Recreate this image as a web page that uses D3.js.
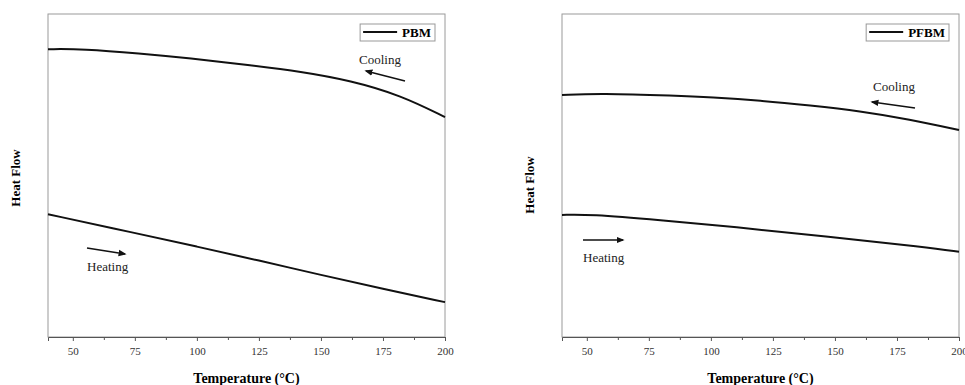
<!DOCTYPE html>
<html>
<head>
<meta charset="utf-8">
<script src="https://cdn.jsdelivr.net/npm/d3@7"></script>
<style>
  body { margin: 0; background: #fff; }
  svg { font-family: "Liberation Serif", "Times New Roman", serif; }
</style>
</head>
<body>
<svg id="chart" width="965" height="385"></svg>
<script>
// temperature (°C) and heat flow (arb. units)
const pbmCoolT = [40, 54, 77, 97, 121, 142, 162, 182, 200];
const pbmCool  = [8.91, 8.92, 8.78, 8.63, 8.42, 8.22, 7.94, 7.49, 6.81];
const pbmHeatT = [40, 75, 100, 125, 150, 175, 200];
const pbmHeat  = [3.80, 3.22, 2.80, 2.37, 1.92, 1.49, 1.08];

const pfbmCoolT = [40, 55, 86, 100, 120, 140, 160, 180, 200];
const pfbmCool  = [7.49, 7.55, 7.47, 7.42, 7.32, 7.17, 7.00, 6.74, 6.41];
const pfbmHeatT = [40, 51, 79.5, 109, 147, 187, 200];
const pfbmHeat  = [3.78, 3.80, 3.62, 3.41, 3.11, 2.78, 2.64];

const xTicks = [50, 75, 100, 125, 150, 175, 200];
const xMinor = [62.5, 87.5, 112.5, 137.5, 162.5, 187.5];

const svg = d3.select('#chart');

function zip(t, v) { return t.map((d, i) => [d, v[i]]); }

svg.append('defs').append('marker')
  .attr('id', 'arrow')
  .attr('viewBox', '0 0 10 10')
  .attr('refX', 8).attr('refY', 5)
  .attr('markerWidth', 5).attr('markerHeight', 5)
  .attr('orient', 'auto')
  .append('path').attr('d', 'M0,1 L10,5 L0,9 Z').attr('fill', '#111');

function panel(left, name, cool, heat, yLab, ann) {
  const top = 14, bottom = 337, width = 397;
  const x = d3.scaleLinear().domain([40, 200]).range([left, left + width]);
  const y = d3.scaleLinear().domain([0, 10]).range([bottom, top]);

  const g = svg.append('g');

  // frame
  g.append('rect')
    .attr('x', left).attr('y', top)
    .attr('width', width).attr('height', bottom - top)
    .attr('fill', 'none').attr('stroke', '#9a9a9a').attr('stroke-width', 1);

  // x axis, major + minor ticks
  const ax = g.append('g').attr('transform', `translate(0,${bottom})`)
    .call(d3.axisBottom(x).tickValues(xTicks).tickSize(4).tickPadding(6).tickFormat(d3.format('d')));
  ax.select('.domain').attr('stroke', '#555');
  ax.selectAll('.tick line').attr('stroke', '#555');
  ax.selectAll('text').attr('font-size', 11).attr('fill', '#333')
    .attr('font-family', '"Liberation Serif", serif');
  g.append('g').attr('transform', `translate(0,${bottom})`)
    .call(d3.axisBottom(x).tickValues(xMinor).tickSize(3).tickFormat(''))
    .call(a => a.select('.domain').remove())
    .selectAll('.tick line').attr('stroke', '#555');

  g.append('text')
    .attr('x', left + width / 2).attr('y', 383)
    .attr('text-anchor', 'middle')
    .attr('font-size', 14).attr('font-weight', 'bold')
    .text('Temperature (°C)');

  g.append('text')
    .attr('transform', `translate(${yLab[0]},${yLab[1]}) rotate(-90)`)
    .attr('text-anchor', 'middle')
    .attr('dominant-baseline', 'middle')
    .attr('font-size', 13).attr('font-weight', 'bold')
    .text('Heat Flow');

  const line = d3.line().x(d => x(d[0])).y(d => y(d[1])).curve(d3.curveBasis);
  [cool, heat].forEach(s => {
    g.append('path').datum(s)
      .attr('d', line)
      .attr('fill', 'none').attr('stroke', '#111').attr('stroke-width', 2);
  });

  // legend
  const lg = g.append('g');
  const txt = lg.append('text')
    .attr('x', left + width - 14).attr('y', 37)
    .attr('text-anchor', 'end')
    .attr('font-size', 13).attr('font-weight', 'bold')
    .text(name);
  const tw = txt.node().getComputedTextLength();
  const bx = left + width - 14 - tw - 42;
  lg.insert('rect', 'text')
    .attr('x', bx).attr('y', 24)
    .attr('width', tw + 46).attr('height', 17)
    .attr('fill', '#fff').attr('stroke', '#999');
  lg.append('line')
    .attr('x1', bx + 3).attr('x2', bx + 37)
    .attr('y1', 32).attr('y2', 32)
    .attr('stroke', '#111').attr('stroke-width', 2);

  // annotations
  ann.forEach(a => {
    g.append('text')
      .attr('x', a.tx).attr('y', a.ty)
      .attr('font-size', 13).attr('fill', '#222')
      .text(a.label);
    g.append('line')
      .attr('x1', a.a[0]).attr('y1', a.a[1])
      .attr('x2', a.a[2]).attr('y2', a.a[3])
      .attr('stroke', '#111').attr('stroke-width', 1.6)
      .attr('marker-end', 'url(#arrow)');
  });
}

panel(48, 'PBM', zip(pbmCoolT, pbmCool), zip(pbmHeatT, pbmHeat), [17, 178], [
  { label: 'Cooling', tx: 359, ty: 64, a: [405, 81, 366, 71] },
  { label: 'Heating', tx: 87, ty: 271, a: [87, 248, 125, 254] }
]);
panel(562, 'PFBM', zip(pfbmCoolT, pfbmCool), zip(pfbmHeatT, pfbmHeat), [531, 185], [
  { label: 'Cooling', tx: 873, ty: 91, a: [915, 108, 872, 102] },
  { label: 'Heating', tx: 583, ty: 262, a: [583, 240, 623, 240] }
]);
</script>
</body>
</html>
